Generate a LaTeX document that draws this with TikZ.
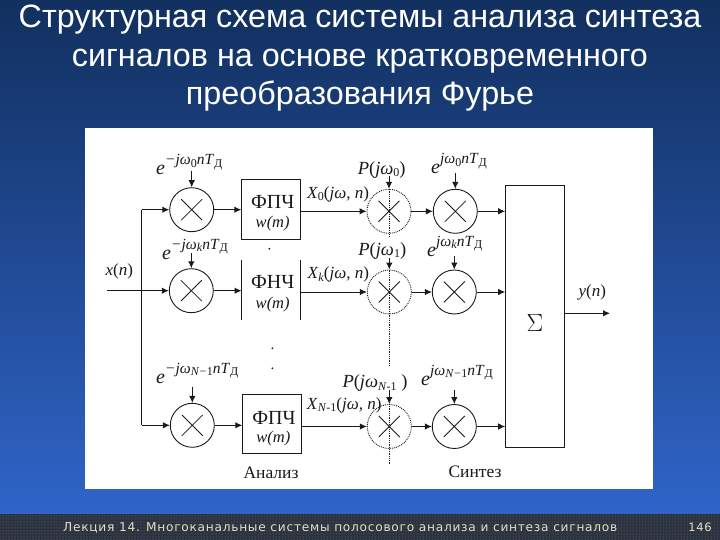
\documentclass[tikz,border=0pt]{standalone}
\usepackage{fontspec}
\setmainfont{Liberation Serif}
\newfontfamily\titlefont{Liberation Sans}
\newfontfamily\footfont[LetterSpace=6]{DejaVu Sans}
\usetikzlibrary{arrows.meta,patterns,calc}
\definecolor{ink}{HTML}{1A1A1A}
\definecolor{bgtop}{HTML}{12305F}
\definecolor{bgbot}{HTML}{2F64C8}
\definecolor{bandc}{HTML}{2B3240}
\definecolor{cream}{HTML}{E8DFC0}
\newcommand{\fsz}[1]{\fontsize{#1}{#1}\selectfont}
\newcommand{\expo}[1]{\textit{e}\raisebox{10pt}{\fsz{15.5}#1}}
\newcommand{\sbs}[1]{\raisebox{-.3ex}{\fsz{12}#1}}
\tikzset{
  mult/.style={circle,draw=ink,line width=.9pt,minimum size=44pt,inner sep=0pt,
    path picture={\draw[ink,line width=.8pt,solid]
      ([shift={(-10.5,-10.5)}]path picture bounding box.center)--([shift={(10.5,10.5)}]path picture bounding box.center)
      ([shift={(-10.5,10.5)}]path picture bounding box.center)--([shift={(10.5,-10.5)}]path picture bounding box.center);}},
  dmult/.style={mult,densely dotted},
  fbox/.style={minimum width=58.6pt,minimum height=59.3pt,inner sep=0pt,align=center,text=ink},
  lab/.style={inner sep=0pt,text=ink,font=\fsz{17}},
  explab/.style={inner sep=0pt,text=ink,anchor=base west,font=\fsz{20}},
  plab/.style={inner sep=0pt,text=ink,font=\fsz{18.5}},
  wlab/.style={inner sep=0pt,text=ink,font=\fsz{16.5}\itshape},
  flab/.style={inner sep=0pt,text=ink,font=\fsz{20}},
  caplab/.style={inner sep=0pt,text=ink,font=\fsz{17.5}},
  wire/.style={draw=ink,line width=1pt},
  arr/.style={wire,-{Latex[length=7pt,width=6.5pt]}},
  dot/.style={circle,fill=ink,inner sep=0pt,minimum size=2pt},
  ttl/.style={inner sep=0pt,anchor=base,text=white,font=\titlefont\fsz{32.3}},
  foot/.style={inner sep=0pt,text=cream,font=\footfont\fsz{12.2}}
}
\begin{document}
\begin{tikzpicture}[x=1pt,y=-1pt]
\useasboundingbox (0,0) rectangle (720,540);
\fill[top color=bgtop,bottom color=bgbot] (0,0) rectangle (720,514);
\fill[bandc] (0,514) rectangle (720,540);
\fill[pattern=dots,pattern color=black!55] (0,514) rectangle (720,540);
\fill[white] (85,128) rectangle (653,489);

\node[ttl] (t1) at (360,28) {Структурная схема системы анализа синтеза};
\node[ttl] (t2) at (360,67) {сигналов на основе кратковременного};
\node[ttl] (t3) at (360,105) {преобразования Фурье};

% analysis multipliers
\node[mult] (m0) at (191.7,209.7) {};
\node[mult] (mk) at (191.3,290.7) {};
\node[mult] (mn) at (192.3,425.3) {};
% filters
\node[fbox,draw=ink,line width=.9pt] (f0) at (271,209.4) {};
\node[fbox,minimum height=59.4pt] (fk) at (271,290) {};
\node[fbox,draw=ink,line width=.9pt] (fn) at (272,424.2) {};
\draw[ink,line width=.9pt] (fk.north west)--(fk.south west) (fk.north east)--(fk.south east);
\node[flab] (f0a) at (272.7,202) {ФПЧ};
\node[wlab] (f0b) at (272.7,224) {w(m)};
\node[flab] (fka) at (272.7,282) {ФНЧ};
\node[wlab] (fkb) at (272.7,305) {w(m)};
\node[flab] (fna) at (274,417.7) {ФПЧ};
\node[wlab] (fnb) at (273.3,439) {w(m)};
% band multipliers
\node[dmult] (p0) at (389,211.3) {};
\node[dmult] (pk) at (389.3,292) {};
\node[dmult] (pn) at (389.3,426.5) {};
% synthesis multipliers
\node[mult] (s0) at (455.3,211.3) {};
\node[mult] (sk) at (454.3,292) {};
\node[mult] (sn) at (454.3,426.5) {};
% sum
\node[draw=ink,line width=1pt,minimum width=58.6pt,minimum height=262.4pt,inner sep=0pt] (sum) at (535,316.5) {};
\node[lab,font=\fsz{27}] (sig) at (535,323) {$\Sigma$};

% free ends and junctions
\coordinate (xin) at (107,290.7);
\coordinate (bus) at (141.7,290.7);
\coordinate (bus0) at (141.7,209.7);
\coordinate (busn) at (141.7,425.3);
\coordinate (yout) at (610,313.3);

\draw[wire,line width=1.2pt] (xin)--(bus);
\draw[wire] (bus0)--(busn);
\draw[arr] (bus0)--(m0.west);
\draw[arr,line width=1.2pt] (bus)--(mk.west);
\draw[arr] (busn)--(mn.west);
\draw[arr] (m0.east)--(m0.east-|f0.west);
\draw[arr] (mk.east)--(mk.east-|fk.west);
\draw[arr] (mn.east)--(mn.east-|fn.west);
\draw[arr] (f0.east|-p0.west)--(p0.west);
\draw[arr] (fk.east|-pk.west)--(pk.west);
\draw[arr,line width=1.2pt] (fn.east|-pn.west)--(pn.west);
\draw[arr] (p0.east)--(s0.west);
\draw[arr] (pk.east)--(sk.west);
\draw[arr] (pn.east)--(sn.west);
\draw[arr] (s0.east)--(s0.east-|sum.west);
\draw[arr] (sk.east)--(sk.east-|sum.west);
\draw[arr] (sn.east)--(sn.east-|sum.west);
\draw[arr] (yout-|sum.east)--(yout);

% dotted axis of the band multipliers
\coordinate (ax0) at (389,236);
\coordinate (ax1) at (389.3,366);
\coordinate (ax3) at (389.3,465);
\draw[ink,line width=.8pt,densely dotted] (p0.north)--(ax0);
\draw[ink,line width=.8pt,densely dotted] (pk.north)--(ax1);
\draw[ink,line width=.8pt,densely dotted] (pn.north)--(ax3);

% top arrows
\coordinate (am0) at (191.7,170.7); \draw[arr] (am0)--(m0.north);
\coordinate (amk) at (191.3,253);   \draw[arr] (amk)--(mk.north);
\coordinate (amn) at (192.3,386.7); \draw[arr] (amn)--(mn.north);
\coordinate (ap0) at (389,176.5);   \draw[arr] (ap0)--(p0.north);
\coordinate (apk) at (389.3,258);   \draw[arr] (apk)--(pk.north);
\coordinate (apn) at (389.3,390);   \draw[arr] (apn)--(pn.north);
\coordinate (as0) at (455.3,173);   \draw[arr] (as0)--(s0.north);
\coordinate (ask) at (454.3,256);   \draw[arr] (ask)--(sk.north);
\coordinate (asn) at (454.3,390);   \draw[arr] (asn)--(sn.north);

% exponent labels
\node[explab] (e0) at (156,175) {\expo{\textit{−jω}\sbs{0}\textit{nT}\sbs{Д}}};
\node[explab] (ek) at (162,259) {\expo{\textit{−jω}\sbs{\textit{k}}\textit{nT}\sbs{Д}}};
\node[explab] (en) at (156,383) {\expo{\textit{−jω}\sbs{\textit{N−}1}\textit{nT}\sbs{Д}}};
\node[explab] (e0s) at (431,174) {\expo{\textit{jω}\sbs{0}\textit{nT}\sbs{Д}}};
\node[explab] (eks) at (427,256) {\expo{\textit{jω}\sbs{\textit{k}}\textit{nT}\sbs{Д}}};
\node[explab] (ens) at (421,385) {\expo{\textit{jω}\sbs{\textit{N−}1}\textit{nT}\sbs{Д}}};

% band labels
\node[plab] (lp0) at (381.7,169.7) {\textit{P}(\textit{jω}\sbs{0})};
\node[plab] (lpk) at (382.3,250.7) {\textit{P}(\textit{jω}\sbs{1})};
\node[plab] (lpn) at (375,383.3) {\textit{P}(\textit{jω}\sbs{\textit{N}-1} )};
\node[lab] (lx0) at (338,194) {\textit{X}\sbs{0}(\textit{jω, n})};
\node[lab] (lxk) at (338.3,274.7) {\textit{X}\sbs{\textit{k}}(\textit{jω, n})};
\node[lab,anchor=west] (lxn) at (306.7,405) {\textit{X}\sbs{\textit{N}-1}(\textit{jω, n})};
\node[lab] (lxi) at (119.3,271.3) {\textit{x}(\textit{n})};
\node[lab] (lyo) at (592.3,292) {\textit{y}(\textit{n})};

% continuation dots
\node[dot] (d1) at (269.3,248.7) {};
\node[dot] (d2) at (272.3,348.3) {};
\node[dot] (d3) at (272.3,368.3) {};

\node[caplab] (an) at (271,472.7) {Анализ};
\node[caplab] (sy) at (475,471.7) {Синтез};

\node[foot,anchor=west] (ft) at (63,527.5) {Лекция 14. Многоканальные системы полосового анализа и синтеза сигналов};
\node[foot,anchor=east,font=\footfont\fsz{11.5}] (pg) at (712,527.5) {146};
\end{tikzpicture}
\end{document}
